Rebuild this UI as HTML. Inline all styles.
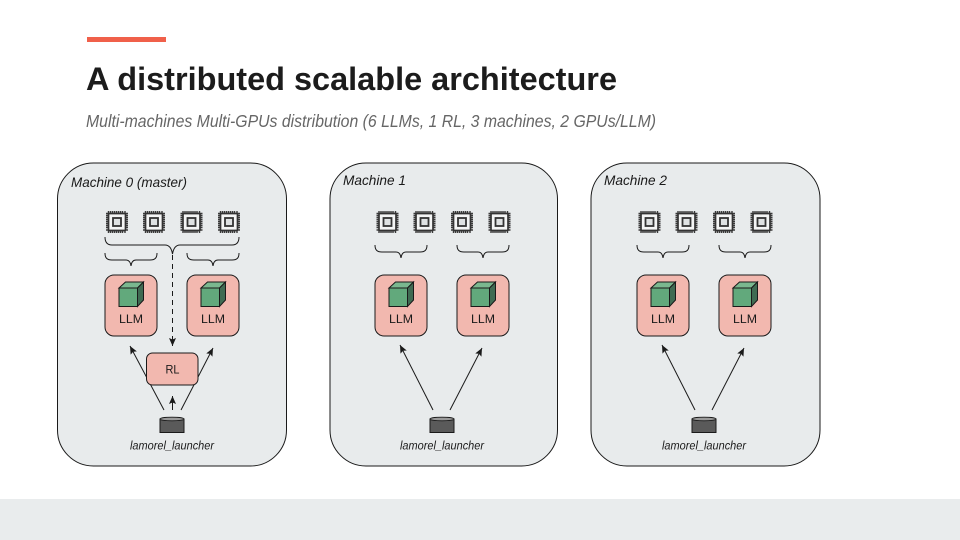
<!DOCTYPE html>
<html><head><meta charset="utf-8"><style>
html,body{margin:0;padding:0;background:#fff}
svg{display:block}
text{font-family:"Liberation Sans",sans-serif}
</style></head><body>
<svg xmlns="http://www.w3.org/2000/svg" xmlns:xlink="http://www.w3.org/1999/xlink" width="960" height="540" viewBox="0 0 960 540">
<defs>
<marker id="a" markerWidth="9" markerHeight="8" refX="8" refY="3.500" orient="auto" markerUnits="userSpaceOnUse"><path d="M0 0L8 3.500L0 7L1.500 3.500Z" fill="#1a1a1a"/></marker>
<g id="chip">
<path d="M-8.500-11V-8M-6.500-11V-8M-4.500-11V-8M-2.500-11V-8M-.5-11V-8M1.500-11V-8M3.500-11V-8M5.500-11V-8M8-11V-8M-8.500 8V11M-6.500 8V11M-4.500 8V11M-2.500 8V11M-.5 8V11M1.500 8V11M3.500 8V11M5.500 8V11M8 8V11M-11-8.500H-8M-11-6.500H-8M-11-4.500H-8M-11-2.500H-8M-11-.5H-8M-11 1.500H-8M-11 3.500H-8M-11 5.500H-8M-11 8H-8M8-8.500H11M8-6.500H11M8-4.500H11M8-2.500H11M8-.5H11M8 1.500H11M8 3.500H11M8 5.500H11M8 8H11" stroke="#3a3a3a" stroke-width="1.400" fill="none"/>
<rect x="-8.500" y="-8.500" width="17" height="17" rx="1" fill="#f4f5f5" stroke="#333" stroke-width="1.700"/>
<rect x="-4" y="-4" width="8" height="8" fill="#dfe2e3" stroke="#333" stroke-width="1.800"/>
</g>
<path id="small" d="M0 0C0 5 2 7 7 7H21C24 7 25.500 9 26 13C26.500 9 28 7 31 7H45C50 7 52 5 52 0" fill="none" stroke="#1a1a1a" stroke-width="1"/>
<g id="llm">
<rect x=".5" y="0" width="52" height="61" rx="9" fill="#f2b8af" stroke="#1a1a1a" stroke-width="1"/>
<path d="M14.500 13L21 7H39L33 13Z" fill="#7ab88f" stroke="#1a1a1a" stroke-width="1"/>
<path d="M33 13L39 7V25L33 31.500Z" fill="#3f6b52" stroke="#1a1a1a" stroke-width="1"/>
<rect x="14.500" y="13" width="18.500" height="18.500" fill="#62a97c" stroke="#1a1a1a" stroke-width="1"/>
<text x="26.500" y="48" font-size="11.500" text-anchor="middle" fill="#1a1a1a" textLength="24" lengthAdjust="spacingAndGlyphs">LLM</text>
</g>
<g id="launcher">
<path d="M-12 2V15.500H12V2Z" fill="#5a5a5a" stroke="#1a1a1a" stroke-width="1"/>
<ellipse cx="0" cy="2" rx="12" ry="1.800" fill="#9a9a9a" stroke="#1a1a1a" stroke-width=".8"/>
<text x="0" y="32.500" font-size="11.500" font-style="italic" text-anchor="middle" fill="#1a1a1a" textLength="84" lengthAdjust="spacingAndGlyphs">lamorel_launcher</text>
</g>
<g id="chips">
<use xlink:href="#chip" x="0"/><use xlink:href="#chip" x="37"/><use xlink:href="#chip" x="74.500"/><use xlink:href="#chip" x="112"/>
</g>
</defs>

<rect width="960" height="540" fill="#fff"/>
<rect x="0" y="499" width="960" height="41" fill="#e9eced"/>
<rect x="87" y="37" width="79" height="5" fill="#f0604a"/>
<text x="86" y="90" font-size="32" font-weight="bold" fill="#1c1c1c" textLength="531" lengthAdjust="spacingAndGlyphs">A distributed scalable architecture</text>
<text x="86" y="127" font-size="17.500" font-style="italic" fill="#666" textLength="570" lengthAdjust="spacingAndGlyphs">Multi-machines Multi-GPUs distribution (6 LLMs, 1 RL, 3 machines, 2 GPUs/LLM)</text>

<!-- Machine 0 -->
<rect x="57.500" y="163" width="229" height="303" rx="36" fill="#e8ebec" stroke="#1a1a1a" stroke-width="1"/>
<text x="71" y="187" font-size="14" font-style="italic" fill="#1a1a1a" textLength="116" lengthAdjust="spacingAndGlyphs">Machine 0 (master)</text>
<use xlink:href="#chips" x="117" y="222"/>
<path d="M105 237C105 242 107 245 112 245H165C169 245 171.500 248 172.500 254C173.500 248 176 245 180 245H232C237 245 239 242 239 237" fill="none" stroke="#1a1a1a" stroke-width="1"/>
<use xlink:href="#small" x="105" y="253"/>
<use xlink:href="#small" x="187" y="253"/>
<use xlink:href="#llm" x="104.500" y="275"/>
<use xlink:href="#llm" x="186.500" y="275"/>
<line x1="172.500" y1="255" x2="172.500" y2="346" stroke="#1a1a1a" stroke-width="1" stroke-dasharray="5 4" marker-end="url(#a)"/>
<line x1="164" y1="410" x2="130" y2="346" stroke="#1a1a1a" stroke-width="1" marker-end="url(#a)"/>
<line x1="181" y1="410" x2="213" y2="348" stroke="#1a1a1a" stroke-width="1" marker-end="url(#a)"/>
<line x1="172.500" y1="410" x2="172.500" y2="396" stroke="#1a1a1a" stroke-width="1" marker-end="url(#a)"/>
<rect x="146.500" y="353" width="51.500" height="32" rx="6" fill="#f2b8af" stroke="#1a1a1a" stroke-width="1"/>
<text x="172.500" y="373.500" font-size="12" text-anchor="middle" fill="#1a1a1a" textLength="14" lengthAdjust="spacingAndGlyphs">RL</text>
<use xlink:href="#launcher" x="172" y="417"/>

<!-- Machine 1 -->
<rect x="330" y="163" width="227.500" height="303" rx="36" fill="#e8ebec" stroke="#1a1a1a" stroke-width="1"/>
<text x="343" y="185" font-size="14" font-style="italic" fill="#1a1a1a" textLength="63" lengthAdjust="spacingAndGlyphs">Machine 1</text>
<use xlink:href="#chips" x="387.500" y="222"/>
<use xlink:href="#small" x="375" y="245"/>
<use xlink:href="#small" x="457" y="245"/>
<use xlink:href="#llm" x="374.500" y="275"/>
<use xlink:href="#llm" x="456.500" y="275"/>
<line x1="433" y1="410" x2="400" y2="345" stroke="#1a1a1a" stroke-width="1" marker-end="url(#a)"/>
<line x1="450" y1="410" x2="482" y2="348" stroke="#1a1a1a" stroke-width="1" marker-end="url(#a)"/>
<use xlink:href="#launcher" x="442" y="417"/>

<!-- Machine 2 -->
<rect x="591" y="163" width="229" height="303" rx="36" fill="#e8ebec" stroke="#1a1a1a" stroke-width="1"/>
<text x="604" y="185" font-size="14" font-style="italic" fill="#1a1a1a" textLength="63" lengthAdjust="spacingAndGlyphs">Machine 2</text>
<use xlink:href="#chips" x="649.500" y="222"/>
<use xlink:href="#small" x="637" y="245"/>
<use xlink:href="#small" x="719" y="245"/>
<use xlink:href="#llm" x="636.500" y="275"/>
<use xlink:href="#llm" x="718.500" y="275"/>
<line x1="695" y1="410" x2="662" y2="345" stroke="#1a1a1a" stroke-width="1" marker-end="url(#a)"/>
<line x1="712" y1="410" x2="744" y2="348" stroke="#1a1a1a" stroke-width="1" marker-end="url(#a)"/>
<use xlink:href="#launcher" x="704" y="417"/>
</svg>
</body></html>
